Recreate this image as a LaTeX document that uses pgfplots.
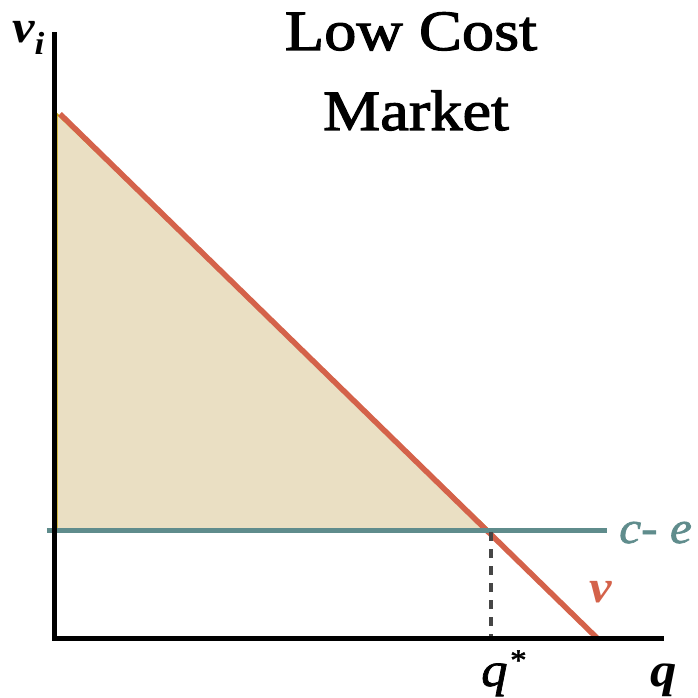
\documentclass[border=0pt]{standalone}
\usepackage{pgfplots}
\pgfplotsset{compat=1.18}
\usepackage{fontspec}
\setmainfont{Liberation Serif}
\newfontfamily\titlefont{Liberation Serif}[FakeStretch=1.13, FakeBold=2]
\newfontfamily\lblfont{Liberation Serif}[FakeStretch=1.1]
\newfontfamily\medfont{Liberation Serif}[FakeStretch=1.1, FakeBold=1.5]
\definecolor{redc}{RGB}{212,98,74}
\definecolor{tealc}{RGB}{95,140,140}
\definecolor{fillc}{RGB}{234,223,195}
\definecolor{goldc}{RGB}{201,169,0}
\definecolor{dashc}{RGB}{70,70,70}
\begin{document}
\begin{tikzpicture}
\begin{axis}[
  scale only axis,
  width=606pt, height=603pt,
  xmin=55, xmax=661, ymin=60, ymax=663,
  axis lines*=left,
  axis line style={line width=5pt, line cap=rect, black},
  xtick=\empty, ytick=\empty,
  clip=false,
  axis on top,
]
\path[draw=none] (axis cs:0,0) rectangle (axis cs:698,698);
% shaded surplus triangle
\addplot[fill=fillc, draw=goldc, line width=1.5pt] coordinates {(57,584) (57,169) (488,169)} -- cycle;
% demand line v
\addplot[redc, line width=5.5pt] coordinates {(60,584) (597,60)};
% c - e line
\addplot[tealc, line width=5pt] coordinates {(47,167) (607,167)};
% dashed q*
\addplot[dashc, line width=3.2pt, dash pattern=on 9pt off 8pt] coordinates {(491,166) (491,60)};
% labels
\node[anchor=base, font=\titlefont\fontsize{57}{60}\selectfont] at (axis cs:411,648) {Low Cost};
\node[anchor=base, font=\titlefont\fontsize{57}{60}\selectfont] at (axis cs:416,568) {Market};
\node[anchor=base west, inner sep=0pt, font=\lblfont\fontsize{46}{50}\selectfont\bfseries\itshape] at (axis cs:12,655) {v\kern0pt\raisebox{-12pt}{\fontsize{32}{36}\selectfont i}};
\node[anchor=base west, inner sep=0pt, font=\medfont\fontsize{45}{48}\selectfont\itshape, text=tealc] at (axis cs:619,155) {c- e};
\node[anchor=base west, inner sep=0pt, font=\lblfont\fontsize{46}{50}\selectfont\bfseries\itshape, text=redc] at (axis cs:589,96) {v};
\node[anchor=base west, inner sep=0pt, font=\medfont\fontsize{48}{52}\selectfont\itshape] at (axis cs:481,12) {q\kern1pt\raisebox{16pt}{\fontsize{30}{34}\selectfont *}};
\node[anchor=base west, inner sep=0pt, font=\lblfont\fontsize{48}{52}\selectfont\bfseries\itshape] at (axis cs:650,12) {q};
\end{axis}
\end{tikzpicture}
\end{document}
